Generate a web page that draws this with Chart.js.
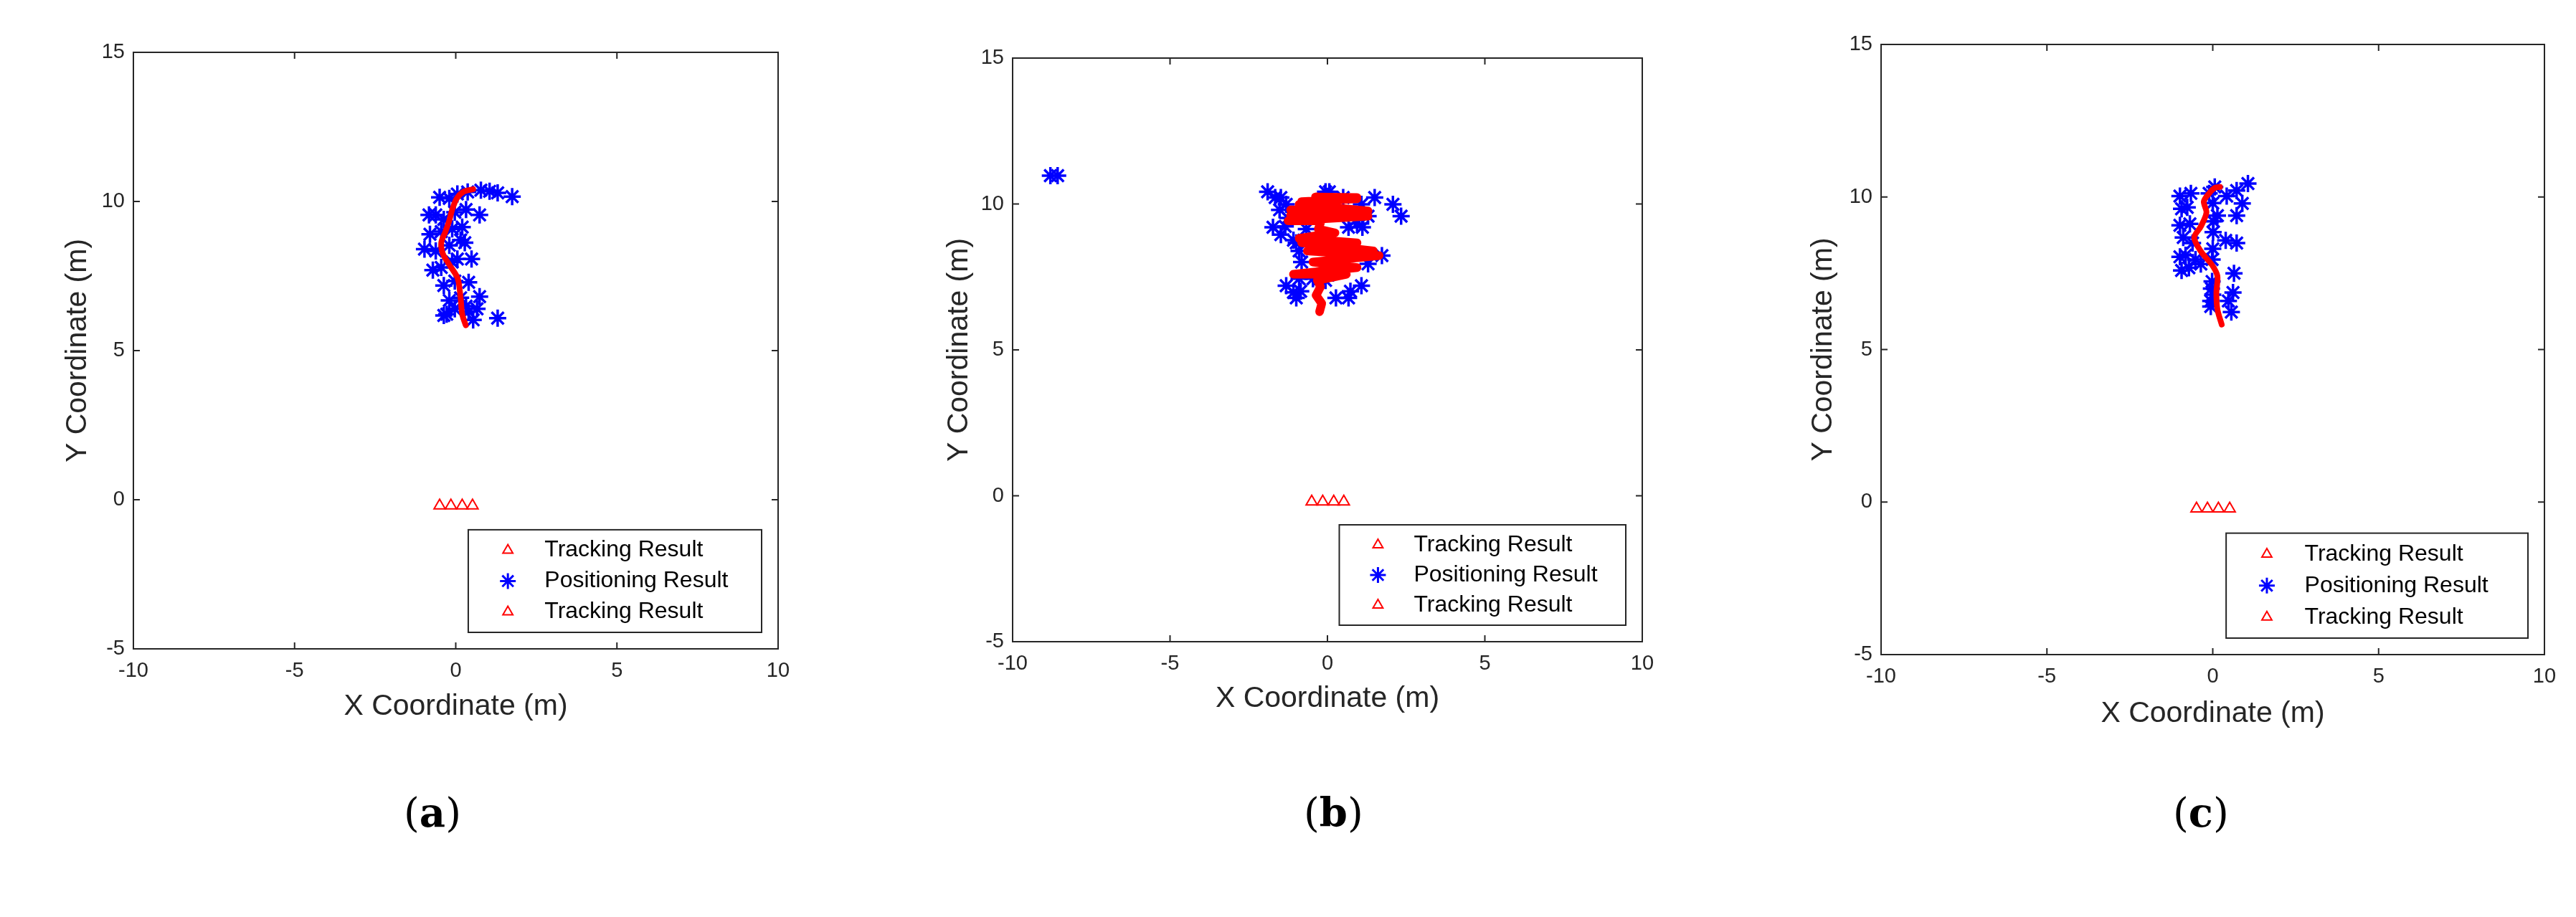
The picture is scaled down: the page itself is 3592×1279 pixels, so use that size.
<!DOCTYPE html>
<html>
<head>
<meta charset="utf-8">
<script src="https://cdn.jsdelivr.net/npm/chart.js@4/dist/chart.umd.min.js"></script>
<style>
  body { margin: 0; background: #fff; width: 3592px; height: 1279px; position: relative; overflow: hidden; }
  canvas { position: absolute; top: 0; }
  .cap { position: absolute; top: 1100px; font: 56px "DejaVu Serif", "Liberation Serif", serif; color: #000; }
  .cap b { font-weight: bold; }
</style>
</head>
<body>
<canvas id="ca" style="left:0px" width="1200" height="1279"></canvas>
<canvas id="cb" style="left:1200px" width="1200" height="1279"></canvas>
<canvas id="cc" style="left:2400px" width="1192" height="1279"></canvas>
<div class="cap" style="left:563px">(<b>a</b>)</div>
<div class="cap" style="left:1818px">(<b>b</b>)</div>
<div class="cap" style="left:3030px">(<b>c</b>)</div>
<script>
// ---- data ----
const xTicks = [-10, -5, 0, 5, 10];
const yTicks = [-5, 0, 5, 10, 15];
const legendLabels = ['Tracking Result', 'Positioning Result', 'Tracking Result'];

// (a)
const anchorsA = [[-0.5, -0.2], [-0.15, -0.2], [0.2, -0.2], [0.52, -0.2]];
const starsA = [
  [-0.5,10.14],[-0.2,10.1],[0.05,10.25],[0.37,10.32],[0.78,10.38],[1.05,10.34],[1.3,10.29],[1.75,10.16],
  [-0.83,9.55],[-0.62,9.55],[-0.37,9.4],[-0.03,9.64],[0.32,9.73],[0.74,9.55],
  [-0.8,8.9],[-0.45,8.99],[-0.11,9.08],[0.2,9.14],[0.28,8.62],[-0.97,8.4],[-0.62,8.34],[-0.2,8.53],[0.15,8.71],
  [0.49,8.07],[-0.71,7.7],[-0.45,7.79],[-0.11,7.97],[0.05,8.07],[-0.37,7.18],[-0.03,7.33],[0.4,7.29],
  [-0.2,6.68],[0.15,6.77],[0.74,6.81],[-0.28,6.22],[-0.03,6.4],[0.4,6.31],[0.66,6.4],[-0.37,6.18],
  [0.54,6.03],[1.3,6.09],[0.32,6.49]
];
const trackA = [
  [0.31,5.85],[0.2,6.22],[0.15,6.77],[0.06,7.42],[-0.2,7.88],[-0.4,8.25],[-0.45,8.62],[-0.32,8.99],
  [-0.2,9.36],[-0.11,9.73],[0.03,10.1],[0.23,10.32],[0.54,10.41]
];

// (b)
const anchorsB = [[-0.5, -0.2], [-0.15, -0.2], [0.2, -0.2], [0.52, -0.2]];
const starsB = [
  [-8.8,10.97],[-8.57,10.97],
  [-1.9,10.42],[-1.66,10.22],[-1.48,10.22],[-1.31,9.99],[-1.52,9.8],[-1.25,9.52],[-1.73,9.2],[-1.48,8.95],
  [-1.34,9.23],[-1.08,8.76],[-0.9,8.39],[-0.67,9.14],[-0.99,8.67],[-0.82,8.01],[-0.9,7.44],[-0.46,7.44],
  [-1.31,7.2],[-1.08,6.97],[-0.99,6.78],[-0.85,7.01],[-0.06,7.38],[0.27,6.78],[0.67,6.78],[0.73,7.01],
  [1.08,7.2],[-0.06,10.42],[0.06,10.42],[0.5,10.22],[1.08,9.99],[1.5,10.22],[2.08,9.99],[2.34,9.58],
  [1.29,9.58],[0.94,9.33],[0.67,9.2],[1.11,9.2],[1.73,8.23],[1.29,7.95],[-0.2,9.99],[-0.25,7.44]
];
const trackB = [
  [-0.25,6.31],[-0.18,6.59],[-0.36,6.87],[-0.22,7.16],[-0.32,7.38],[0.6,7.59],[-1.08,7.59],[0.94,7.82],
  [-0.46,8.01],[1.64,8.23],[-0.64,8.39],[1.46,8.39],[-0.82,8.67],[0.94,8.67],[-0.9,8.82],[0.24,9.01],
  [-0.29,9.14],[-0.2,9.42],[-1.25,9.42],[1.29,9.58],[-1.17,9.61],[0.94,9.8],[-1.17,9.8],[1.29,9.76],
  [-0.9,9.99],[0.24,9.99],[-0.82,10.08],[0.94,10.18],[-0.38,10.24],[0.94,10.22]
];

// (c)
const anchorsC = [[-0.49, -0.22], [-0.16, -0.22], [0.17, -0.22], [0.51, -0.22]];
const starsC = [
  [-0.99,10.03],[-0.66,10.12],[-0.94,9.61],[-0.77,9.66],[-0.99,9.07],[-0.69,9.12],[-0.89,8.67],[-0.61,8.49],
  [-0.99,8.04],[-0.82,8.09],[-0.94,7.59],[-0.72,7.68],[-0.36,7.8],[0.06,10.33],[-0.11,10.12],[0.42,10.03],
  [0.72,10.21],[1.06,10.44],[0.89,9.79],[0.72,9.39],[0.14,9.39],[0.39,8.58],[0.72,8.49],[-0.02,7.95],
  [-0.02,7.23],[-0.06,6.59],[0.01,8.85],[0.64,7.5],[0.61,6.87],[0.56,6.23],[0.47,6.59],[-0.06,6.41],[-0.52,7.95],
  [0.0,9.8],[0.02,9.2],[0.0,8.3],[-0.04,7.0],[0.0,6.8]
];
const trackC = [
  [0.27,5.82],[0.14,6.32],[0.11,6.87],[0.14,7.41],[-0.02,7.77],[-0.36,8.22],[-0.56,8.67],[-0.36,9.03],
  [-0.19,9.49],[-0.27,9.85],[-0.11,10.12],[0.06,10.3],[0.22,10.33]
];

// ---- drawing ----
const FONT = '"Liberation Sans", Arial, sans-serif';
const toPts = arr => arr.map(p => ({ x: p[0], y: p[1] }));

const framePlugin = {
  id: 'frame',
  afterDraw(chart) {
    const { ctx, chartArea: a, scales } = chart;
    ctx.save();
    ctx.strokeStyle = '#262626';
    ctx.lineWidth = 2;
    ctx.strokeRect(a.left, a.top, a.right - a.left, a.bottom - a.top);
    const t = 9;
    ctx.beginPath();
    xTicks.forEach(v => {
      const px = scales.x.getPixelForValue(v);
      ctx.moveTo(px, a.bottom); ctx.lineTo(px, a.bottom - t);
      ctx.moveTo(px, a.top); ctx.lineTo(px, a.top + t);
    });
    yTicks.forEach(v => {
      const py = scales.y.getPixelForValue(v);
      ctx.moveTo(a.left, py); ctx.lineTo(a.left + t, py);
      ctx.moveTo(a.right, py); ctx.lineTo(a.right - t, py);
    });
    ctx.stroke();

    // legend box
    const w = (a.right - a.left) * 0.455, h = (a.bottom - a.top) * 0.172;
    const lx = a.right - 23 - w, ly = a.bottom - 23 - h;
    ctx.fillStyle = '#fff';
    ctx.fillRect(lx, ly, w, h);
    ctx.strokeStyle = '#262626';
    ctx.strokeRect(lx, ly, w, h);
    const styles = [
      { pointStyle: 'triangle', radius: 8, borderWidth: 2, borderColor: '#ff0000' },
      { pointStyle: 'star', radius: 11, borderWidth: 3, borderColor: '#0000ff' },
      { pointStyle: 'triangle', radius: 8, borderWidth: 2, borderColor: '#ff0000' }
    ];
    ctx.font = '32px ' + FONT;
    ctx.textBaseline = 'middle';
    legendLabels.forEach((lab, i) => {
      const ry = ly + h * (0.2 + 0.3 * i);
      const s = styles[i];
      ctx.strokeStyle = s.borderColor;
      ctx.fillStyle = 'rgba(0,0,0,0)';
      ctx.lineWidth = s.borderWidth;
      Chart.helpers.drawPoint(ctx, { pointStyle: s.pointStyle, radius: s.radius, rotation: 0, borderWidth: s.borderWidth }, lx + w * 0.135, ry);
      ctx.fillStyle = '#000';
      ctx.fillText(lab, lx + w * 0.26, ry);
    });
    ctx.restore();
  }
};

function makeChart(id, g, anchors, stars, track, lineW, tension) {
  const H = 1279;
  const padLeft = g.yTitleX - 24;
  const xAxisH = g.xTitleY + 24 - g.bottom;
  new Chart(document.getElementById(id), {
    type: 'scatter',
    data: {
      datasets: [
        { label: legendLabels[0], data: toPts(anchors), order: 0, pointStyle: 'triangle', pointRadius: 9,
          borderColor: '#ff0000', backgroundColor: 'rgba(0,0,0,0)', borderWidth: 2 },
        { label: legendLabels[1], data: toPts(stars), order: 2, pointStyle: 'star', pointRadius: 12,
          borderColor: '#0000ff', backgroundColor: '#0000ff', borderWidth: 3.5 },
        { label: legendLabels[2], data: toPts(track), order: 1, showLine: true, pointRadius: 0,
          borderColor: '#ff0000', borderWidth: lineW, borderJoinStyle: 'round', borderCapStyle: 'round', tension: tension }
      ]
    },
    options: {
      responsive: false,
      animation: false,
      events: [],
      layout: { padding: { left: padLeft, top: g.top, right: g.W - g.right, bottom: H - g.xTitleY - 24 } },
      plugins: { legend: { display: false }, tooltip: { enabled: false } },
      scales: {
        x: {
          type: 'linear', min: -10, max: 10,
          afterBuildTicks: s => { s.ticks = xTicks.map(v => ({ value: v })); },
          afterFit: s => { s.height = xAxisH; },
          grid: { display: false, drawTicks: false },
          border: { display: false },
          ticks: { font: { family: FONT, size: 29 }, color: '#262626', padding: 14 },
          title: { display: true, text: 'X Coordinate (m)', font: { family: FONT, size: 41 }, color: '#262626', padding: 0 }
        },
        y: {
          type: 'linear', min: -5, max: 15,
          afterBuildTicks: s => { s.ticks = yTicks.map(v => ({ value: v })); },
          afterFit: s => { s.width = g.left - padLeft; },
          grid: { display: false, drawTicks: false },
          border: { display: false },
          ticks: { font: { family: FONT, size: 29 }, color: '#262626', padding: 12 },
          title: { display: true, text: 'Y Coordinate (m)', font: { family: FONT, size: 41 }, color: '#262626', padding: 0 }
        }
      }
    },
    plugins: [framePlugin]
  });
}

makeChart('ca', { W: 1200, left: 186, right: 1085, top: 73, bottom: 905, yTitleX: 108, xTitleY: 986 }, anchorsA, starsA, trackA, 8, 0.3);
makeChart('cb', { W: 1200, left: 212, right: 1090, top: 81, bottom: 895, yTitleX: 137, xTitleY: 975 }, anchorsB, starsB, trackB, 12, 0);
makeChart('cc', { W: 1192, left: 223, right: 1148, top: 62, bottom: 913, yTitleX: 142, xTitleY: 996 }, anchorsC, starsC, trackC, 8, 0.3);
</script>
</body>
</html>
